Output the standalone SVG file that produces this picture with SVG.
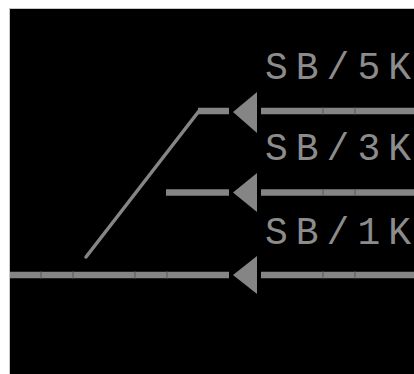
<svg xmlns="http://www.w3.org/2000/svg" width="414" height="374" viewBox="0 0 414 374">
<style>
.track{stroke:#858585;stroke-width:6.5;fill:none}
.diag{stroke:#858585;stroke-width:3.5;fill:none;stroke-linecap:round}
.joint{stroke:#5e5e5e;stroke-width:1.2}
.arrow{fill:#858585}
.lbl{font-family:"Liberation Mono","Courier New",monospace;font-size:38px;letter-spacing:8px;fill:#8c8c8c}
</style>
<rect x="0" y="0" width="414" height="374" fill="#ffffff"/>
<rect x="9.5" y="8.5" width="405" height="366" fill="#000000" stroke="#c8c8c8" stroke-width="1"/>
<g id="connectors">
<line class="diag" x1="86" y1="257" x2="199" y2="111"/>
<line class="track" x1="198" y1="111" x2="229" y2="111"/>
<line class="track" x1="261" y1="111" x2="414" y2="111"/>
<line class="track" x1="166" y1="192.5" x2="229" y2="192.5"/>
<line class="track" x1="261" y1="192.5" x2="414" y2="192.5"/>
<line class="track" x1="10" y1="275" x2="229" y2="275"/>
<line class="track" x1="261" y1="275" x2="414" y2="275"/>
<g id="joints">
<line class="joint" x1="323" y1="107.5" x2="323" y2="114.5"/>
<line class="joint" x1="355" y1="107.5" x2="355" y2="114.5"/>
<line class="joint" x1="323" y1="189" x2="323" y2="196"/>
<line class="joint" x1="355" y1="189" x2="355" y2="196"/>
<line class="joint" x1="41" y1="271.5" x2="41" y2="278.5"/>
<line class="joint" x1="73" y1="271.5" x2="73" y2="278.5"/>
<line class="joint" x1="135" y1="271.5" x2="135" y2="278.5"/>
<line class="joint" x1="167" y1="271.5" x2="167" y2="278.5"/>
<line class="joint" x1="323" y1="271.5" x2="323" y2="278.5"/>
<line class="joint" x1="355" y1="271.5" x2="355" y2="278.5"/>
</g>
</g>
<g id="signal-5k">
<polygon class="arrow" points="233,112 257,92 257,133"/>
<text class="lbl" x="265" y="79">SB/5K</text>
</g>
<g id="signal-3k">
<polygon class="arrow" points="233,192.5 257,173 257,212"/>
<text class="lbl" x="265" y="160">SB/3K</text>
</g>
<g id="signal-1k">
<polygon class="arrow" points="233,275 257,256 257,294"/>
<text class="lbl" x="265" y="244">SB/1K</text>
</g>
</svg>
